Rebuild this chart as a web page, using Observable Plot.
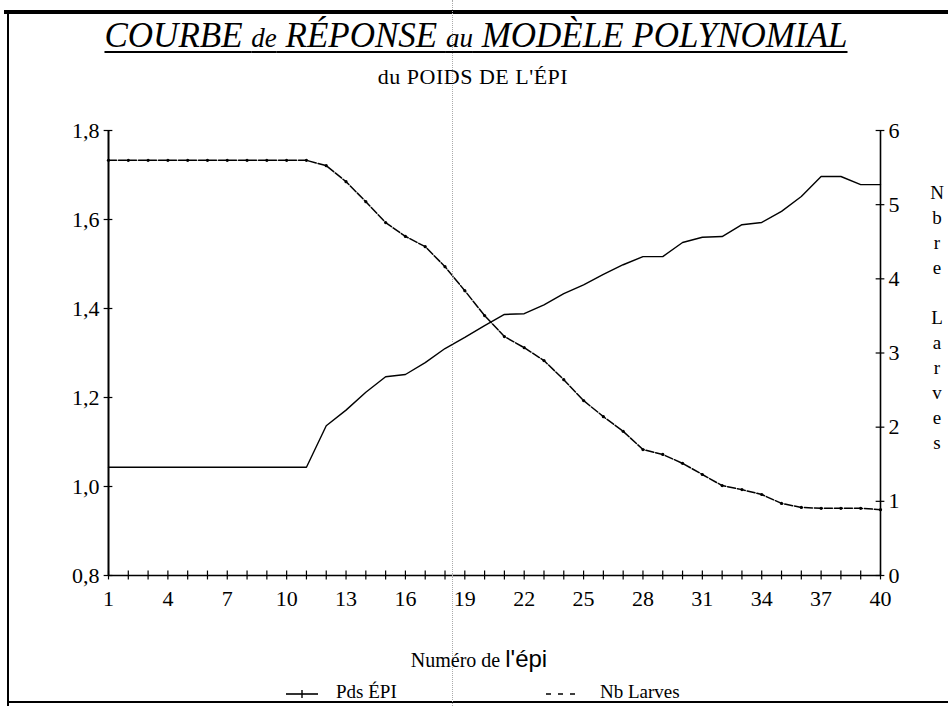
<!DOCTYPE html>
<html>
<head>
<meta charset="utf-8">
<script src="https://cdn.jsdelivr.net/npm/d3@7"></script>
<script src="https://cdn.jsdelivr.net/npm/@observablehq/plot@0.6"></script>
<style>
  html, body { margin: 0; padding: 0; background: #fff; }
  #wrap { position: relative; width: 948px; height: 706px; overflow: hidden; background: #fff; font-family: "Liberation Serif", "DejaVu Serif", serif; color: #000; }
  #wrap svg { position: absolute; left: 0; top: 0; }
  .abs { position: absolute; white-space: nowrap; }
  #title { left: 0; width: 952px; top: 16px; text-align: center; font-style: italic; font-size: 35px; text-decoration: underline; text-decoration-thickness: 2px; text-underline-offset: 4px; }
  #subtitle { left: 0; width: 946px; top: 64px; text-align: center; font-size: 22px; letter-spacing: 0.5px; }
  #xlabel { left: 0; width: 958px; top: 645px; text-align: center; font-size: 20px; }
  #xlabel .sans { font-family: "Liberation Sans", Arial, sans-serif; font-size: 24px; }
  #ylabel2 { left: 926px; top: 180px; width: 22px; text-align: center; font-size: 19px; line-height: 25px; }
  .legend { top: 681px; font-size: 19px; }
  .frame-top { left: 4px; top: 10px; width: 944px; height: 4px; background: #000; }
  .frame-left { left: 7px; top: 12px; width: 2px; height: 694px; background: #000; }
  .frame-bottom { left: 7px; top: 701px; width: 941px; height: 2px; background: #000; }
  .scanline { left: 452px; top: 0; width: 0; height: 706px; border-left: 1px dotted #aaa; }
</style>
</head>
<body>
<div id="wrap"></div>
<script>
// ---- data ----
const epi = [1,2,3,4,5,6,7,8,9,10,11,12,13,14,15,16,17,18,19,20,21,22,23,24,25,26,27,28,29,30,31,32,33,34,35,36,37,38,39,40];
const pdsEpi = [1.733,1.733,1.733,1.733,1.733,1.733,1.733,1.733,1.733,1.733,1.733,
  1.721,1.685,1.640,1.593,1.562,1.539,1.494,1.440,1.384,1.337,1.312,1.283,1.240,1.193,
  1.157,1.124,1.083,1.072,1.052,1.027,1.002,0.993,0.982,0.962,0.953,0.951,0.951,0.951,0.948];
const nbLarves = [1.46,1.46,1.46,1.46,1.46,1.46,1.46,1.46,1.46,1.46,1.46,
  2.02,2.23,2.47,2.68,2.71,2.87,3.06,3.21,3.37,3.52,3.53,3.65,3.80,3.92,
  4.06,4.19,4.30,4.30,4.49,4.56,4.57,4.73,4.76,4.91,5.11,5.38,5.38,5.27,5.27];
const leftTicks = [0.8,1.0,1.2,1.4,1.6,1.8];
const rightTicks = [0,1,2,3,4,5,6];
const xLabelTicks = [1,4,7,10,13,16,19,22,25,28,31,34,37,40];
const title = "COURBE de RÉPONSE au MODÈLE POLYNOMIAL";
const subtitle = "du POIDS DE L'ÉPI";

// right axis (0..6) shares the pixel range of the left axis (0.8..1.8)
const yMin = 0.8, yMax = 1.8, rMax = 6;
const toLeft = v => yMin + v * (yMax - yMin) / rMax;

const rows = epi.map((e, i) => ({epi: e, pds: pdsEpi[i], nb: nbLarves[i]}));

const chart = Plot.plot({
  width: 948,
  height: 706,
  marginLeft: 108,
  marginRight: 68,
  marginTop: 130,
  marginBottom: 131,
  style: {fontFamily: "Liberation Serif, DejaVu Serif, serif", fontSize: "22px", background: "transparent", overflow: "visible"},
  x: {domain: [1, 40], axis: null},
  y: {domain: [yMin, yMax], axis: null},
  marks: [
    // axis lines
    Plot.ruleY([yMin], {x1: 1, x2: 40, stroke: "#000", strokeWidth: 1.6}),
    Plot.ruleX([1], {y1: yMin, y2: yMax, stroke: "#000", strokeWidth: 2}),
    Plot.ruleX([40], {y1: yMin, y2: yMax, stroke: "#000", strokeWidth: 1.6}),
    // cross ticks
    Plot.ruleX(epi, {x: d => d, y1: yMin - 0.01, y2: yMin + 0.01, stroke: "#000", strokeWidth: 1.2}),
    Plot.ruleY(leftTicks, {y: d => d, x1: 1 - 0.22, x2: 1 + 0.22, stroke: "#000", strokeWidth: 1.2}),
    Plot.ruleY(rightTicks, {y: d => toLeft(d), x1: 40 - 0.22, x2: 40 + 0.22, stroke: "#000", strokeWidth: 1.2}),
    // tick labels
    Plot.axisX({ticks: xLabelTicks, tickSize: 0, tickPadding: 15, fontSize: 22, label: null, tickFormat: d => String(d)}),
    Plot.axisY({anchor: "left", ticks: leftTicks, tickSize: 0, tickPadding: 9, fontSize: 22, label: null,
      tickFormat: d => d.toFixed(1).replace(".", ",")}),
    Plot.axisY({anchor: "right", ticks: rightTicks.map(toLeft), tickSize: 0, tickPadding: 8, fontSize: 22, label: null,
      tickFormat: d => String(Math.round((d - yMin) * rMax / (yMax - yMin)))}),
    // series
    Plot.line(rows, {x: "epi", y: d => toLeft(d.nb), stroke: "#000", strokeWidth: 1.4}),
    Plot.line(rows, {x: "epi", y: "pds", stroke: "#000", strokeWidth: 1.5, strokeDasharray: "8 2"}),
    Plot.dot(rows, {x: "epi", y: "pds", r: 1.6, fill: "#000", stroke: "none"})
  ]
});

const wrap = document.getElementById("wrap");
wrap.appendChild(chart);

function add(cls, html, id) {
  const d = document.createElement("div");
  d.className = "abs " + cls;
  if (id) d.id = id;
  d.innerHTML = html;
  wrap.appendChild(d);
  return d;
}
add("frame-top", "");
add("frame-left", "");
add("frame-bottom", "");
add("scanline", "");
add("", title.replace(" de ", ' <span style="font-size:27px">de</span> ').replace(" au ", ' <span style="font-size:27px">au</span> '), "title");
add("", subtitle, "subtitle");
add("", 'Numéro de <span class="sans">l\'épi</span>', "xlabel");
add("", "N<br>b<br>r<br>e<br><br>L<br>a<br>r<br>v<br>e<br>s", "ylabel2");

// legend
const lg1 = add("legend", "", null);
lg1.style.left = "286px";
lg1.innerHTML = '<svg width="34" height="20" style="position:relative;vertical-align:middle"><line x1="0" y1="10" x2="32" y2="10" stroke="#000" stroke-width="1.6"/><line x1="16" y1="6" x2="16" y2="14" stroke="#000" stroke-width="1.4"/></svg><span style="margin-left:16px">Pds ÉPI</span>';
const lg2 = add("legend", "", null);
lg2.style.left = "546px";
lg2.innerHTML = '<svg width="34" height="20" style="position:relative;vertical-align:middle"><line x1="0" y1="10" x2="34" y2="10" stroke="#000" stroke-width="1.4" stroke-dasharray="5 7"/></svg><span style="margin-left:20px">Nb Larves</span>';
</script>
</body>
</html>
